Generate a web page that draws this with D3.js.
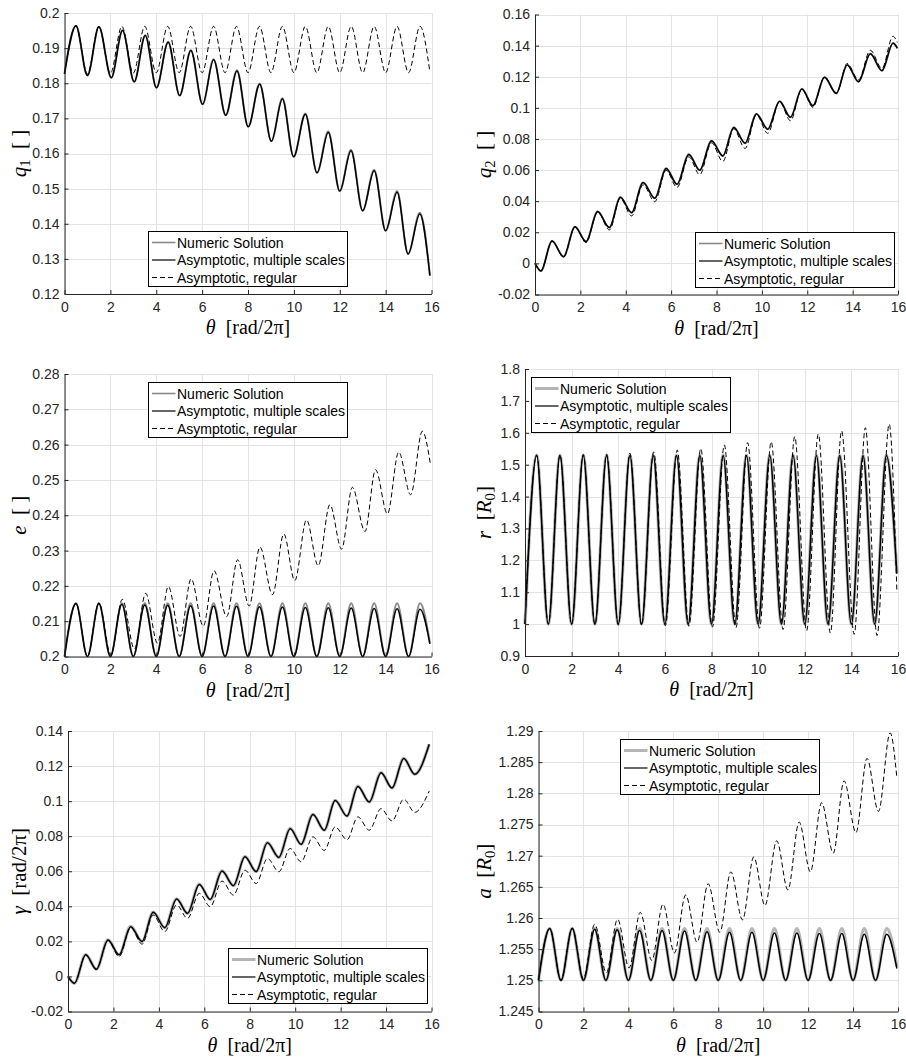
<!DOCTYPE html>
<html>
<head>
<meta charset="utf-8">
<script src="https://cdn.jsdelivr.net/npm/d3@7"></script>
<style>
  html, body { margin: 0; padding: 0; background: #fff; }
  svg { display: block; }
</style>
</head>
<body>
<div id="chart"></div>
<script>
// Values: extrema (peaks / troughs) of every curve plus end points.
const X_TICKS = [0, 2, 4, 6, 8, 10, 12, 14, 16];

// --- q1 ---
const Q1_TICKS = [0.12, 0.13, 0.14, 0.15, 0.16, 0.17, 0.18, 0.19, 0.2];
const Q1_X = [0, 0.5, 1, 1.5, 2.04, 2.53, 3.04, 3.52, 4.01, 4.52, 5.02, 5.51, 6.02, 6.5, 7.03, 7.52,
  8.01, 8.51, 9.02, 9.5, 9.99, 10.5, 11.01, 11.5, 12, 12.49, 13, 13.5, 14, 14.5, 14.98, 15.49, 15.93];
const Q1_NUM = [0.1827, 0.1964, 0.1822, 0.1961, 0.1816, 0.1951, 0.1804, 0.1937, 0.1787, 0.1918, 0.1765, 0.1894,
  0.1740, 0.1868, 0.1709, 0.1837, 0.1676, 0.1799, 0.1635, 0.1757, 0.1591, 0.1714, 0.1545, 0.1663,
  0.1493, 0.1611, 0.1437, 0.1554, 0.1380, 0.1493, 0.1314, 0.1431, 0.1254];
const Q1_MS = [0.1827, 0.1964, 0.1822, 0.1961, 0.1816, 0.1950, 0.1804, 0.1936, 0.1787, 0.1917, 0.1765, 0.1893,
  0.1740, 0.1867, 0.1709, 0.1835, 0.1676, 0.1797, 0.1635, 0.1755, 0.1591, 0.1712, 0.1545, 0.1660,
  0.1493, 0.1608, 0.1437, 0.1551, 0.1380, 0.1490, 0.1314, 0.1428, 0.1252];
const Q1_XR = [0, 0.5, 1, 1.5, 2, 2.5, 3, 3.5, 4, 4.5, 5, 5.5, 6, 6.5, 7, 7.5,
  8, 8.5, 9, 9.5, 10, 10.5, 11, 11.5, 12, 12.5, 13, 13.5, 14, 14.5, 15, 15.5, 15.93];
const Q1_REG = [0.1827, 0.1963, 0.1826, 0.1962, 0.1828, 0.1962, 0.1829, 0.1962, 0.1830, 0.1962, 0.1830, 0.1962,
  0.1830, 0.1962, 0.1830, 0.1962, 0.1830, 0.1962, 0.1830, 0.1962, 0.1830, 0.1962, 0.1830, 0.1962,
  0.1830, 0.1962, 0.1830, 0.1962, 0.1830, 0.1962, 0.1830, 0.1962, 0.1832];

// --- q2 ---
const Q2_TICKS = [-0.02, 0, 0.02, 0.04, 0.06, 0.08, 0.1, 0.12, 0.14, 0.16];
const Q2_X = [0, 0.26, 0.75, 1.26, 1.76, 2.25, 2.76, 3.28, 3.76, 4.26, 4.76, 5.28, 5.78, 6.26, 6.78, 7.26, 7.78,
  8.28, 8.76, 9.26, 9.76, 10.26, 10.78, 11.26, 11.76, 12.25, 12.76, 13.28, 13.76, 14.26, 14.78, 15.29, 15.78, 15.97];
const Q2_NUM = [0, -0.0049, 0.0144, 0.0043, 0.0236, 0.0140, 0.0333, 0.0230, 0.0425, 0.0326, 0.0520, 0.0419,
  0.0611, 0.0509, 0.0701, 0.0599, 0.0789, 0.0691, 0.0875, 0.0773, 0.0961, 0.0863, 0.1043, 0.0939,
  0.1122, 0.1014, 0.1197, 0.1093, 0.1277, 0.1168, 0.1348, 0.1239, 0.1416, 0.1384];
const Q2_MS = [0, -0.0049, 0.0144, 0.0043, 0.0236, 0.0140, 0.0333, 0.0230, 0.0425, 0.0326, 0.0520, 0.0419,
  0.0610, 0.0509, 0.0700, 0.0599, 0.0788, 0.0691, 0.0874, 0.0773, 0.0960, 0.0863, 0.1042, 0.0939,
  0.1121, 0.1014, 0.1196, 0.1093, 0.1276, 0.1168, 0.1347, 0.1239, 0.1415, 0.1383];
const Q2_REG = [0, -0.0049, 0.0144, 0.0040, 0.0236, 0.0133, 0.0330, 0.0215, 0.0418, 0.0305, 0.0505, 0.0397,
  0.0598, 0.0488, 0.0685, 0.0570, 0.0775, 0.0655, 0.0865, 0.0739, 0.0955, 0.0836, 0.1040, 0.0917,
  0.1120, 0.1003, 0.1200, 0.1090, 0.1285, 0.1180, 0.1370, 0.1254, 0.1460, 0.1420];

// --- e ---
const E_TICKS = [0.2, 0.21, 0.22, 0.23, 0.24, 0.25, 0.26, 0.27, 0.28];
const E_X = [0, 0.5, 1, 1.5, 2, 2.5, 3, 3.5, 4, 4.5, 5, 5.5, 6, 6.5, 7, 7.5,
  8, 8.5, 9, 9.5, 10, 10.5, 11, 11.5, 12, 12.5, 13, 13.5, 14, 14.5, 15, 15.5, 15.93];
const E_NUM = [0.2, 0.2151, 0.2, 0.2151, 0.2, 0.2151, 0.2, 0.2151, 0.2, 0.2151, 0.2, 0.2151,
  0.2, 0.2151, 0.2, 0.2151, 0.2, 0.2151, 0.2, 0.2151, 0.2, 0.2151, 0.2, 0.2151,
  0.2, 0.2151, 0.2, 0.2151, 0.2, 0.2151, 0.2, 0.2151, 0.2038];
const E_MS = [0.2, 0.2150, 0.2, 0.2150, 0.2, 0.2148, 0.2, 0.2146, 0.2, 0.2145, 0.2, 0.2144,
  0.2, 0.2143, 0.2, 0.2142, 0.2, 0.2141, 0.2, 0.2140, 0.2, 0.2139, 0.2, 0.2138,
  0.2, 0.2137, 0.2, 0.2136, 0.2, 0.2135, 0.2, 0.2134, 0.2036];
const E_XR = [0, 0.5, 1, 1.5, 2.02, 2.52, 3.05, 3.54, 4.05, 4.53, 5.04, 5.52, 6.05, 6.52, 7.07, 7.55,
  8.05, 8.52, 9.07, 9.56, 10.04, 10.55, 11.06, 11.57, 12.08, 12.55, 13.1, 13.56, 14.08, 14.57, 15.09, 15.6, 15.95];
const E_REG = [0.2, 0.2150, 0.2, 0.2152, 0.2005, 0.2162, 0.2021, 0.2179, 0.2038, 0.2198, 0.2057, 0.2220,
  0.2086, 0.2243, 0.2113, 0.2274, 0.2143, 0.2310, 0.2175, 0.2347, 0.2215, 0.2387, 0.2257, 0.2430,
  0.2304, 0.2479, 0.2354, 0.2529, 0.2404, 0.2579, 0.2458, 0.2638, 0.2546];

// --- r ---
const R_TICKS = [0.9, 1, 1.1, 1.2, 1.3, 1.4, 1.5, 1.6, 1.7, 1.8];
const R_X = [0, 0.5, 1, 1.5, 2, 2.5, 3, 3.5, 4, 4.5, 5, 5.5, 6, 6.5, 7, 7.5,
  8, 8.5, 9, 9.5, 10, 10.5, 11, 11.5, 12, 12.5, 13, 13.5, 14, 14.5, 15, 15.5, 15.95];
const R_NUM = [1.0, 1.530, 1.0, 1.530, 1.0, 1.530, 1.0, 1.530, 1.0, 1.530, 1.0, 1.530,
  1.0, 1.530, 1.0, 1.530, 1.0, 1.530, 1.0, 1.530, 1.0, 1.530, 1.0, 1.530,
  1.0, 1.530, 1.0, 1.530, 1.0, 1.530, 1.0, 1.530, 1.160];
const R_MS = [1.0, 1.529, 1.0, 1.529, 1.0, 1.529, 1.0, 1.529, 1.0, 1.529, 1.0, 1.529,
  1.0, 1.529, 1.0, 1.529, 1.0, 1.529, 1.0, 1.529, 1.0, 1.529, 1.0, 1.529,
  1.0, 1.529, 1.0, 1.529, 1.0, 1.529, 1.0, 1.529, 1.158];
const R_XR = [0, 0.5, 1, 1.5, 2, 2.5, 3, 3.5, 4, 4.5, 5, 5.52, 6.02, 6.53, 7.03, 7.54,
  8.04, 8.55, 9.05, 9.55, 10.06, 10.56, 11.07, 11.57, 12.08, 12.58, 13.1, 13.58, 14.12, 14.6, 15.1, 15.62, 15.95];
const R_REG = [1.0, 1.530, 1.0, 1.531, 0.999, 1.532, 0.998, 1.533, 0.997, 1.536, 0.996, 1.540,
  0.995, 1.546, 0.993, 1.551, 0.991, 1.562, 0.989, 1.569, 0.987, 1.572, 0.983, 1.588,
  0.979, 1.596, 0.972, 1.606, 0.968, 1.616, 0.964, 1.627, 1.107];

// --- gamma ---
const G_TICKS = [-0.02, 0, 0.02, 0.04, 0.06, 0.08, 0.1, 0.12, 0.14];
const G_X = [0, 0.28, 0.78, 1.25, 1.76, 2.25, 2.76, 3.26, 3.75, 4.26, 4.78, 5.26, 5.78, 6.26, 6.78, 7.28,
  7.79, 8.28, 8.78, 9.28, 9.78, 10.26, 10.78, 11.28, 11.76, 12.28, 12.76, 13.26, 13.78, 14.26, 14.78, 15.26, 15.9];
const G_NUM = [0, -0.0039, 0.0124, 0.0041, 0.0209, 0.0123, 0.0285, 0.0199, 0.0367, 0.0278, 0.0443, 0.0360,
  0.0526, 0.0439, 0.0602, 0.0518, 0.0684, 0.0598, 0.0763, 0.0679, 0.0844, 0.0754, 0.0924, 0.0834,
  0.1005, 0.0915, 0.1085, 0.0995, 0.1163, 0.1075, 0.1244, 0.1153, 0.1325];
const G_MS = [0, -0.0039, 0.0123, 0.0041, 0.0208, 0.0123, 0.0284, 0.0199, 0.0366, 0.0278, 0.0442, 0.0360,
  0.0525, 0.0439, 0.0601, 0.0518, 0.0683, 0.0598, 0.0762, 0.0679, 0.0843, 0.0754, 0.0923, 0.0834,
  0.1004, 0.0915, 0.1084, 0.0995, 0.1162, 0.1075, 0.1243, 0.1153, 0.1324];
const G_REG = [0, -0.0039, 0.0123, 0.0041, 0.0206, 0.0113, 0.0279, 0.0184, 0.0350, 0.0256, 0.0408, 0.0331,
  0.0474, 0.0398, 0.0544, 0.0464, 0.0606, 0.0530, 0.0673, 0.0597, 0.0730, 0.0654, 0.0796, 0.0719,
  0.0853, 0.0780, 0.0910, 0.0834, 0.0957, 0.0887, 0.1011, 0.0936, 0.1058];

// --- a ---
const A_TICKS = [1.245, 1.25, 1.255, 1.26, 1.265, 1.27, 1.275, 1.28, 1.285, 1.29];
const A_X = [0, 0.5, 1, 1.5, 2, 2.5, 3, 3.5, 4, 4.5, 5, 5.5, 6, 6.5, 7, 7.5,
  8, 8.5, 9, 9.5, 10, 10.5, 11, 11.5, 12, 12.5, 13, 13.5, 14, 14.5, 15, 15.5, 15.95];
const A_NUM = [1.25, 1.2583, 1.25, 1.2583, 1.25, 1.2583, 1.25, 1.2583, 1.25, 1.2583, 1.25, 1.2583,
  1.25, 1.2583, 1.25, 1.2583, 1.25, 1.2583, 1.25, 1.2583, 1.25, 1.2583, 1.25, 1.2583,
  1.25, 1.2583, 1.25, 1.2583, 1.25, 1.2583, 1.25, 1.2583, 1.2522];
const A_MS = [1.25, 1.2583, 1.25, 1.2583, 1.25, 1.2582, 1.25, 1.2581, 1.25, 1.2580, 1.25, 1.2580,
  1.25, 1.2579, 1.25, 1.2578, 1.25, 1.2577, 1.25, 1.2577, 1.25, 1.2576, 1.25, 1.2576,
  1.25, 1.2575, 1.25, 1.2575, 1.25, 1.2574, 1.25, 1.2574, 1.2519];
const A_XR = [0, 0.5, 1, 1.5, 2, 2.5, 3.02, 3.52, 4.03, 4.53, 5.04, 5.54, 6.05, 6.55, 7.06, 7.55,
  8.07, 8.56, 9.08, 9.58, 10.08, 10.6, 11.1, 11.6, 12.1, 12.6, 13.12, 13.6, 14.13, 14.62, 15.13, 15.65, 15.95];
const A_REG = [1.25, 1.2583, 1.25, 1.2584, 1.2503, 1.2590, 1.2512, 1.2598, 1.2520, 1.2609, 1.2532, 1.2622,
  1.2544, 1.2637, 1.2561, 1.2655, 1.2577, 1.2674, 1.2597, 1.2698, 1.2620, 1.2724, 1.2645, 1.2754,
  1.2674, 1.2785, 1.2704, 1.2820, 1.2737, 1.2856, 1.2771, 1.2897, 1.2825];

const LEGEND_LABELS = ['Numeric Solution', 'Asymptotic, multiple scales', 'Asymptotic, regular'];

// ---------------------------------------------------------------------------
const W = 906, H = 1060;
const FONT = "'Liberation Sans', Arial, Helvetica, sans-serif";
const SERIF = "'Liberation Serif', 'Times New Roman', serif";
const AX = '#262626';

// numeric-solution styles: thin grey (top row + e) or thick light grey (r, gamma, a)
const NUM_THIN = { color: '#8a8a8a', width: 2, legendWidth: 1.6 };
const NUM_THICK = { color: '#b5b5b5', width: 3.2, legendWidth: 3 };

const PANELS = [
  { box: { l: 64.5, r: 431.5, t: 13, b: 294 }, yDomain: [0.12, 0.2], yTicks: Q1_TICKS, labelX: 26,
    label: [['q', 'i'], ['1', 'sub'], ['\u2002[ ]', '']], legend: [148, 231], num: NUM_THIN,
    series: [[Q1_X, Q1_NUM], [Q1_X, Q1_MS], [Q1_XR, Q1_REG]] },
  { box: { l: 535, r: 898, t: 14.5, b: 294.5 }, yDomain: [-0.02, 0.16], yTicks: Q2_TICKS, labelX: 491,
    label: [['q', 'i'], ['2', 'sub'], ['\u2002[ ]', '']], legend: [695, 232], num: NUM_THIN,
    series: [[Q2_X, Q2_NUM], [Q2_X, Q2_MS], [Q2_X, Q2_REG]] },
  { box: { l: 64.5, r: 431.5, t: 374, b: 656.5 }, yDomain: [0.2, 0.28], yTicks: E_TICKS, labelX: 26,
    label: [['e', 'i'], ['\u2002[ ]', '']], legend: [148, 382], num: NUM_THIN,
    series: [[E_X, E_NUM], [E_X, E_MS], [E_XR, E_REG]] },
  { box: { l: 525, r: 898, t: 369, b: 656 }, yDomain: [0.9, 1.8], yTicks: R_TICKS, labelX: 491,
    label: [['r', 'i'], ['\u2002[', ''], ['R', 'i'], ['0', 'sub'], [']', '']], legend: [531, 377], num: NUM_THICK,
    series: [[R_X, R_NUM], [R_X, R_MS], [R_XR, R_REG]] },
  { box: { l: 68, r: 431.5, t: 731, b: 1011.5 }, yDomain: [-0.02, 0.14], yTicks: G_TICKS, labelX: 26,
    label: [['\u03b3', 'i'], ['\u2002[rad/2\u03c0]', '']], legend: [228, 948], num: NUM_THICK,
    series: [[G_X, G_NUM], [G_X, G_MS], [G_X, G_REG]] },
  { box: { l: 538.5, r: 898, t: 731, b: 1011.5 }, yDomain: [1.245, 1.29], yTicks: A_TICKS, labelX: 491,
    label: [['a', 'i'], ['\u2002[', ''], ['R', 'i'], ['0', 'sub'], [']', '']], legend: [620, 739], num: NUM_THICK,
    series: [[A_X, A_NUM], [A_X, A_MS], [A_XR, A_REG]] },
];

const fmt = d => String(+d.toFixed(4));

const svg = d3.select('#chart').append('svg')
  .attr('width', W).attr('height', H)
  .style('background', '#fff');

function addRichText(sel, parts) {
  parts.forEach(([t, kind]) => {
    const ts = sel.append('tspan').text(t);
    if (kind === 'i') ts.style('font-style', 'italic');
    if (kind === 'sub') ts.attr('font-size', '70%').attr('baseline-shift', '-25%');
  });
}

PANELS.forEach(p => {
  const { l, r, t, b } = p.box;
  const x = d3.scaleLinear().domain([0, 16]).range([l, r]);
  const y = d3.scaleLinear().domain(p.yDomain).range([b, t]);
  const g = svg.append('g');

  // grid
  g.selectAll('.gx').data(X_TICKS).enter().append('line')
    .attr('x1', d => Math.round(x(d)) + 0.5).attr('x2', d => Math.round(x(d)) + 0.5)
    .attr('y1', t).attr('y2', b)
    .attr('stroke', '#e3e3e3').attr('stroke-width', 1);
  g.selectAll('.gy').data(p.yTicks).enter().append('line')
    .attr('y1', d => Math.round(y(d)) + 0.5).attr('y2', d => Math.round(y(d)) + 0.5)
    .attr('x1', l).attr('x2', r)
    .attr('stroke', '#e3e3e3').attr('stroke-width', 1);

  // curves
  const line = d3.line().x(d => x(d[0])).y(d => y(d[1])).curve(d3.curveMonotoneX);
  const styles = [
    { color: p.num.color, width: p.num.width, dash: null },
    { color: '#000', width: 1.5, dash: null },
    { color: '#000', width: 1, dash: '5,3' },
  ];
  p.series.forEach(([xs, ys], i) => {
    const pts = xs.map((v, k) => [v, ys[k]]);
    g.append('path').datum(pts)
      .attr('fill', 'none').attr('stroke', styles[i].color)
      .attr('stroke-width', styles[i].width)
      .attr('stroke-dasharray', styles[i].dash)
      .attr('stroke-linejoin', 'round')
      .attr('d', line);
  });

  // axes
  const ax = g.append('g').attr('transform', `translate(0,${b})`)
    .call(d3.axisBottom(x).tickValues(X_TICKS).tickFormat(fmt).tickSizeInner(-4).tickSizeOuter(0).tickPadding(8));
  const ay = g.append('g').attr('transform', `translate(${l},0)`)
    .call(d3.axisLeft(y).tickValues(p.yTicks).tickFormat(fmt).tickSizeInner(-4).tickSizeOuter(0).tickPadding(5));
  [ax, ay].forEach(a => {
    a.selectAll('path, line').attr('stroke', AX).attr('stroke-width', 1);
    a.selectAll('text').attr('fill', AX).style('font-family', FONT).style('font-size', '14px');
  });

  // x label
  const xl = svg.append('text')
    .attr('x', (l + r) / 2).attr('y', b + 40)
    .attr('text-anchor', 'middle')
    .style('font-family', SERIF).style('font-size', '20px').attr('fill', '#000');
  addRichText(xl, [['\u03b8', 'i'], ['\u2002[rad/2\u03c0]', '']]);

  // y label
  const cy = (t + b) / 2;
  const yl = svg.append('text')
    .attr('transform', `translate(${p.labelX},${cy}) rotate(-90)`)
    .attr('text-anchor', 'middle')
    .style('font-family', SERIF).style('font-size', '21px').attr('fill', '#000');
  addRichText(yl, p.label);

  // legend
  const lg = svg.append('g').attr('transform', `translate(${p.legend[0]},${p.legend[1]})`);
  lg.append('rect').attr('x', 0.5).attr('y', 0.5).attr('width', 199).attr('height', 55)
    .attr('fill', '#fff').attr('stroke', '#000').attr('stroke-width', 1);
  const lstyles = [
    { color: p.num.color, width: p.num.legendWidth, dash: null },
    { color: '#000', width: 1.2, dash: null },
    { color: '#000', width: 1, dash: '5,3' },
  ];
  LEGEND_LABELS.forEach((txt, i) => {
    const yy = 11.5 + i * 17.5;
    lg.append('line').attr('x1', 4).attr('x2', 27.5).attr('y1', yy).attr('y2', yy)
      .attr('stroke', lstyles[i].color).attr('stroke-width', lstyles[i].width)
      .attr('stroke-dasharray', lstyles[i].dash);
    lg.append('text').attr('x', 29).attr('y', yy + 5)
      .style('font-family', FONT).style('font-size', '14px').attr('fill', '#000')
      .text(txt);
  });
});
</script>
</body>
</html>
